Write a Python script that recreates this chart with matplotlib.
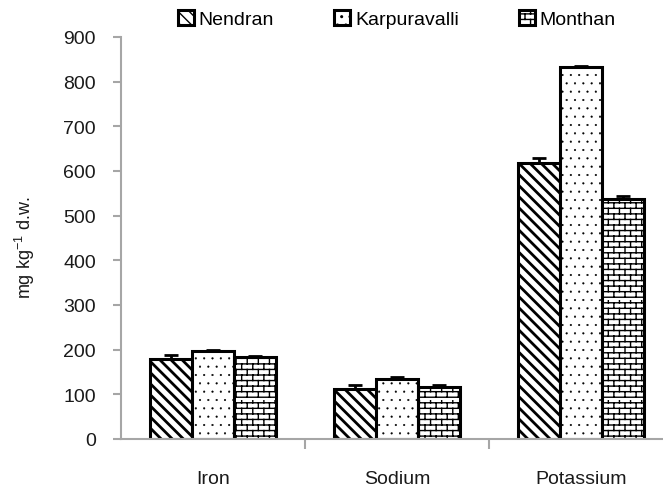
import warnings
import numpy as np
import matplotlib
matplotlib.use("Agg")
import matplotlib.pyplot as plt
import matplotlib.hatch as mhatch
from matplotlib.path import Path

warnings.filterwarnings("ignore")

minerals = ["Iron", "Sodium", "Potassium"]
varieties = ["Nendran", "Karpuravalli", "Monthan"]
nendran = [178, 112, 619]
karpuravalli = [196, 134, 833]
monthan = [183, 117, 538]
nendran_err = [9, 9, 9]
karpuravalli_err = [3, 4, 3]
monthan_err = [3, 4, 5]
yticks = [0, 100, 200, 300, 400, 500, 600, 700, 800, 900]


class BrickHatch(mhatch.HatchPatternBase):
    # brick wall pattern, triggered by 'B' in the hatch string
    def __init__(self, hatch, density):
        n = hatch.count('B')
        self.rows = 18 * n
        self.cols = 9 * n
        self.num_vertices = (self.rows + self.rows * self.cols) * 2

    def set_vertices_and_codes(self, vertices, codes):
        h = 1.0 / self.rows
        w = 1.0 / self.cols
        k = 0
        for i in range(self.rows):
            y = i * h + h / 2
            vertices[k] = (0, y)
            vertices[k + 1] = (1, y)
            k += 2
            shift = w / 4 + (w / 2 if i % 2 else 0)
            for j in range(self.cols):
                x = j * w + shift
                vertices[k] = (x, y)
                vertices[k + 1] = (x, y + h)
                k += 2
        codes[0::2] = Path.MOVETO
        codes[1::2] = Path.LINETO


mhatch._hatch_types.append(BrickHatch)

plt.rcParams['font.family'] = ['Liberation Sans', 'DejaVu Sans']
plt.rcParams['mathtext.default'] = 'regular'
plt.rcParams['hatch.linewidth'] = 1.0
plt.rcParams['hatch.color'] = 'black'

fig = plt.figure(figsize=(6.63, 4.89), dpi=100)
ax = fig.add_axes([121 / 663, 1 - 440 / 489, 552 / 663, 402 / 489])

x = np.arange(len(minerals))
w = 0.228
series = [(nendran, nendran_err, '\\\\\\', 2.0, 'black'),
          (karpuravalli, karpuravalli_err, '..', 0.3, '#555555'),
          (monthan, monthan_err, 'B', 1.0, 'black')]

for k, (vals, errs, hatch, hlw, hcol) in enumerate(series):
    bars = ax.bar(x + (k - 1) * w, vals, w, color='white', edgecolor='black',
                  linewidth=2.2, hatch=hatch, label=varieties[k], zorder=2)
    for b in bars:
        try:
            b.set_hatch_linewidth(hlw)
        except AttributeError:
            pass
    ax.errorbar(x + (k - 1) * w, vals, yerr=[np.zeros(len(errs)), errs],
                fmt='none', ecolor='black', elinewidth=2, capsize=5,
                capthick=2, zorder=3)

ax.set_xlim(-0.5, 2.5)
ax.set_ylim(0, 900)
ax.set_yticks(yticks)
ax.set_xticks(x)
ax.set_xticklabels(minerals)
ax.set_xticks([0.5, 1.5], minor=True)

for s in ['top', 'right']:
    ax.spines[s].set_visible(False)
for s in ['left', 'bottom']:
    ax.spines[s].set_color('#a6a6a6')
    ax.spines[s].set_linewidth(1.5)

ax.tick_params(axis='y', direction='out', length=6, width=1.5, color='#a6a6a6',
               labelsize=14, pad=12, labelcolor='#1a1a1a')
ax.tick_params(axis='x', which='major', length=0, labelsize=14, pad=22,
               labelcolor='#1a1a1a')
ax.tick_params(axis='x', which='minor', direction='out', length=7, width=1.5,
               color='#a6a6a6')

fig.text(25 / 663, 1 - 248 / 489, 'mg kg$^{-1}$ d.w.', rotation=90,
         ha='center', va='center', fontsize=13, color='#1a1a1a')

leg = ax.legend(loc='center', bbox_to_anchor=(0.5, 1 + 18 / 402), ncol=3,
                frameon=False, fontsize=14, handlelength=0.8, handleheight=0.8,
                handletextpad=0.25, columnspacing=3.1, borderaxespad=0)

fig.savefig('out.png', dpi=100)
